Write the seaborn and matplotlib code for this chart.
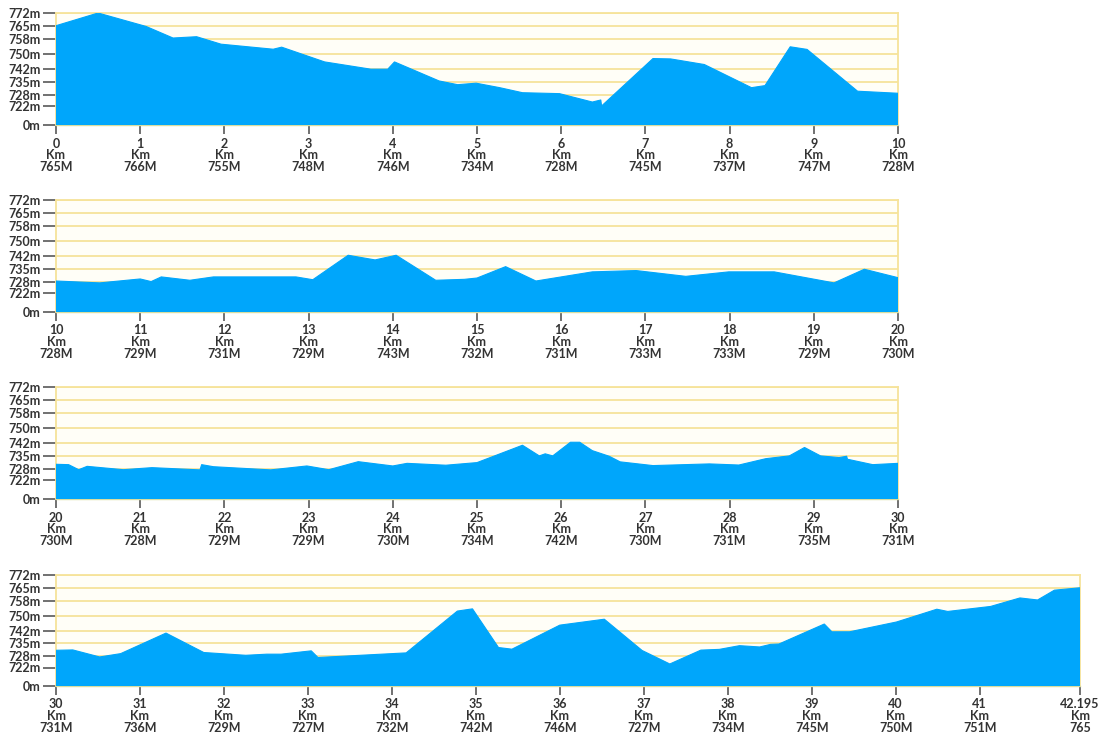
import matplotlib
matplotlib.use("Agg")
import matplotlib.pyplot as plt
import seaborn as sns
import pandas as pd

sns.set_theme(style="white")
plt.rcParams['font.family'] = ['Lato', 'DejaVu Sans']
plt.rcParams['font.weight'] = 'bold'

# ---- axis ticks ----
y_ticks = [712, 722, 728, 735, 742, 750, 758, 765, 772]
y_tick_labels = ["0m", "722m", "728m", "735m", "742m", "750m", "758m", "765m", "772m"]

# ---- elevation profile data (km, metres) ----
seg1_km = [0.0, 0.50, 1.07, 1.39, 1.67, 1.96, 2.58, 2.68, 3.19, 3.74, 3.94, 4.02,
           4.55, 4.77, 4.99, 5.27, 5.54, 5.98, 6.37, 6.47, 6.48, 7.09, 7.30, 7.70,
           8.26, 8.42, 8.72, 8.92, 9.52, 10.0]
seg1_elev = [765.2, 772.0, 764.8, 758.6, 759.3, 755.3, 752.6, 753.7, 745.8, 741.9, 741.9, 745.8,
             735.6, 733.6, 734.4, 732.0, 729.3, 728.8, 724.3, 725.4, 722.2, 747.6, 747.4, 744.4,
             732.0, 733.1, 753.9, 752.5, 730.1, 729.0]

seg2_km = [10.0, 10.52, 11.0, 11.13, 11.25, 11.59, 11.87, 12.85, 13.05, 13.47, 13.79, 14.04,
           14.51, 14.85, 15.0, 15.34, 15.70, 16.37, 16.89, 17.48, 17.99, 18.53, 19.24, 19.60, 20.0]
seg2_elev = [728.6, 727.6, 729.7, 728.3, 730.8, 729.0, 730.8, 730.8, 729.3, 742.4, 739.9, 742.4,
             729.0, 729.5, 730.2, 736.3, 728.6, 733.5, 734.2, 731.1, 733.5, 733.5, 727.6, 734.9, 730.4]

seg3_km = [20.0, 20.15, 20.27, 20.37, 20.80, 21.14, 21.71, 21.73, 21.87, 22.55, 22.98, 23.24,
           23.59, 24.0, 24.17, 24.63, 25.0, 25.54, 25.74, 25.81, 25.90, 26.11, 26.22, 26.37,
           26.57, 26.70, 27.09, 27.76, 28.11, 28.43, 28.71, 28.89, 29.08, 29.30, 29.39, 29.40,
           29.70, 30.0]
seg3_elev = [730.6, 730.4, 727.7, 729.5, 727.7, 728.8, 727.6, 730.4, 729.3, 727.6, 729.7, 727.7,
             732.0, 729.7, 731.1, 730.1, 731.5, 740.8, 735.1, 736.2, 735.1, 742.4, 742.4, 737.9,
             734.9, 731.9, 729.9, 730.8, 730.2, 733.6, 735.1, 739.6, 735.1, 734.2, 734.9, 733.3,
             730.4, 731.1]

seg4_km = [30.0, 30.20, 30.52, 30.77, 31.31, 31.76, 32.26, 32.51, 32.68, 33.04, 33.12, 34.17,
           34.78, 34.96, 35.27, 35.43, 36.0, 36.53, 36.98, 37.31, 37.68, 37.90, 38.14, 38.38,
           38.51, 38.61, 39.15, 39.24, 39.45, 40.01, 40.49, 40.62, 41.13, 41.48, 41.69, 41.89,
           42.195]
seg4_elev = [731.3, 731.5, 727.7, 729.5, 740.6, 730.1, 728.6, 729.2, 729.2, 731.0, 727.4, 729.9,
             752.5, 753.7, 732.8, 731.9, 744.9, 748.1, 731.2, 723.9, 731.4, 731.8, 733.8, 733.1,
             734.5, 734.7, 745.5, 741.3, 741.3, 746.6, 753.5, 752.3, 755.0, 759.6, 758.5, 763.8,
             765.1]

# ---- x tick labels ----
seg1_ticks = [0, 1, 2, 3, 4, 5, 6, 7, 8, 9, 10]
seg1_tick_elev = ["765M", "766M", "755M", "748M", "746M", "734M", "728M", "745M", "737M", "747M", "728M"]
seg2_ticks = [10, 11, 12, 13, 14, 15, 16, 17, 18, 19, 20]
seg2_tick_elev = ["728M", "729M", "731M", "729M", "743M", "732M", "731M", "733M", "733M", "729M", "730M"]
seg3_ticks = [20, 21, 22, 23, 24, 25, 26, 27, 28, 29, 30]
seg3_tick_elev = ["730M", "728M", "729M", "729M", "730M", "734M", "742M", "730M", "731M", "735M", "731M"]
seg4_ticks = [30, 31, 32, 33, 34, 35, 36, 37, 38, 39, 40, 41, 42.195]
seg4_tick_elev = ["731M", "736M", "729M", "727M", "732M", "742M", "746M", "727M", "734M", "745M", "750M", "751M", "765"]

segments = [
    (seg1_km, seg1_elev, seg1_ticks, seg1_tick_elev),
    (seg2_km, seg2_elev, seg2_ticks, seg2_tick_elev),
    (seg3_km, seg3_elev, seg3_ticks, seg3_tick_elev),
    (seg4_km, seg4_elev, seg4_ticks, seg4_tick_elev),
]

FILL = "#00A6FB"
GRID = "#F6E39A"
TEXT = "#333333"
TICK = "#666666"
FS = 9.0

W, H = 1108, 735
fig = plt.figure(figsize=(W / 100, H / 100), dpi=100)
fig.patch.set_facecolor("white")

panel_px = [  # left, top, right, bottom in pixels
    (56, 13, 898, 125),
    (56, 200, 898, 312),
    (56, 387, 898, 499),
    (56, 575, 1080, 686),
]

for (km, elev, ticks, tlabels), (l, t, r, b) in zip(segments, panel_px):
    ax = fig.add_axes([l / W, 1 - b / H, (r - l) / W, (b - t) / H])
    ax.set_facecolor("#FFFEF7")
    df = pd.DataFrame({"km": km, "elev": elev})
    ax.fill_between(df["km"], 0, df["elev"], color=FILL, linewidth=0, zorder=3)
    sns.lineplot(data=df, x="km", y="elev", ax=ax, color=FILL, linewidth=0.8,
                 zorder=3, sort=False, estimator=None)
    ax.set_xlim(ticks[0], ticks[-1])
    ax.set_ylim(712, 772)
    ax.set_yticks(y_ticks)
    ax.set_yticklabels(y_tick_labels)
    ax.set_xticks(ticks)
    ax.set_xticklabels([f"{k:g}\nKm\n{lab}" for k, lab in zip(ticks, tlabels)],
                       linespacing=0.96)
    ax.set_xlabel("")
    ax.set_ylabel("")
    for yv in y_ticks[1:]:
        ax.axhline(yv, color=GRID, linewidth=1.3, zorder=1)
    for side in ["left", "right", "top"]:
        ax.spines[side].set_color(GRID)
        ax.spines[side].set_linewidth(1.3)
    ax.spines["bottom"].set_color("#D8DDA0")
    ax.spines["bottom"].set_linewidth(1.0)
    ax.tick_params(axis="y", which="major", length=9.5, width=1.3, color=TICK,
                   pad=1.8, labelsize=FS, labelcolor=TEXT, left=True)
    ax.tick_params(axis="x", which="major", length=6.5, width=1.3, color=TICK,
                   pad=2.5, labelsize=FS, labelcolor=TEXT, bottom=True)
    ax.grid(False)

fig.savefig("out.png", dpi=100, facecolor="white")
